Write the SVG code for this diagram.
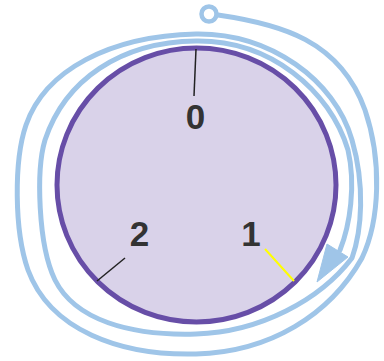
<svg xmlns="http://www.w3.org/2000/svg" width="384" height="361" viewBox="0 0 384 361">
<style>
.conn{fill:none;stroke:#9fc5e8;stroke-width:5;stroke-linecap:round;stroke-linejoin:round}
.lbl{font-family:"Liberation Sans",Arial,sans-serif;font-weight:bold;font-size:35px;fill:#333333;text-anchor:middle}
.tick{stroke:#222222;stroke-width:1.5}
</style>
<rect width="384" height="361" fill="#ffffff"/>
<g id="node-circle">
<ellipse cx="196.5" cy="185" rx="139.5" ry="137" fill="#d9d2e9" stroke="#674ea7" stroke-width="5"/>
</g>
<g id="connectors">
<path class="conn" d="M 218 15 C 280 24, 340 40, 365 110 C 382 160, 380 220, 362 258 C 330 315, 270 352, 196 354 C 120 356, 50 330, 28 270 C 14 230, 14 160, 26 125 C 45 70, 110 36, 196 34 C 270 33, 335 80, 352 140 C 365 185, 362 230, 352 258 C 320 300, 260 332, 196 334 C 130 336, 75 320, 55 280 C 38 245, 36 170, 45 140 C 65 80, 120 42, 196 41 C 270 40, 330 90, 348 150 C 356 185, 350 225, 340 250"/>
<polygon points="327,244 348,257 317,282" fill="#9fc5e8" stroke="#9fc5e8" stroke-width="1" stroke-linejoin="round"/>
<circle cx="209" cy="14" r="7.5" fill="#ffffff" stroke="#9fc5e8" stroke-width="4.5"/>
</g>
<g id="label-0">
<line class="tick" x1="196" y1="49" x2="194" y2="96"/>
<text class="lbl" x="195.5" y="129">0</text>
</g>
<g id="label-2">
<line class="tick" x1="97" y1="281" x2="125" y2="258"/>
<text class="lbl" x="139.5" y="246">2</text>
</g>
<g id="label-1">
<line x1="265" y1="249" x2="294" y2="281" stroke="#ffff00" stroke-width="2"/>
<text class="lbl" x="251" y="246">1</text>
</g>
</svg>
